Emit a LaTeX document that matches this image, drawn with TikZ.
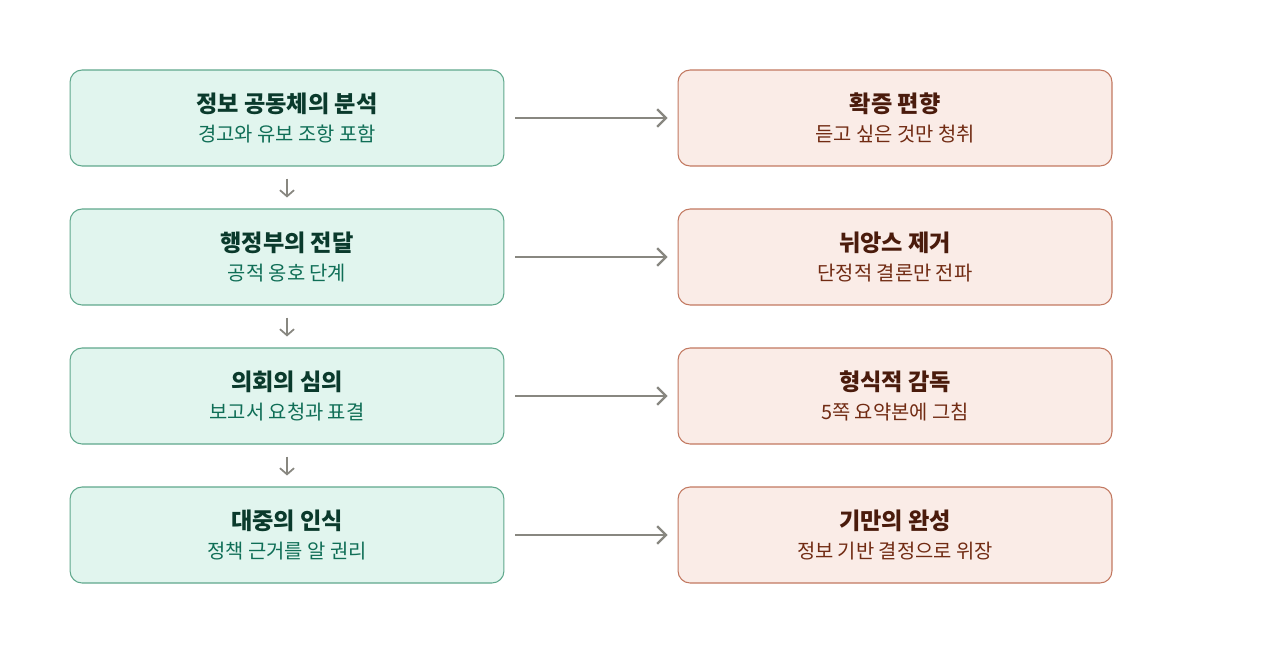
\documentclass[tikz,border=0pt]{standalone}
\usepackage{fontspec}
\setmainfont{Noto Sans CJK KR}
\usetikzlibrary{arrows.meta, positioning}
\definecolor{lfill}{HTML}{E1F5EE}
\definecolor{ldraw}{HTML}{5FA88C}
\definecolor{ltitle}{HTML}{0A3A2C}
\definecolor{lsub}{HTML}{0F6E56}
\definecolor{rfill}{HTML}{FAECE7}
\definecolor{rdraw}{HTML}{C27860}
\definecolor{rtitle}{HTML}{4A1B0C}
\definecolor{rsub}{HTML}{712B13}
\definecolor{flowgray}{HTML}{888780}
\tikzset{
  box/.style={rounded corners=0.24cm, line width=0.6pt, minimum width=8.68cm, minimum height=1.92cm, align=center, inner sep=0pt},
  leftbox/.style={box, draw=ldraw, fill=lfill},
  rightbox/.style={box, draw=rdraw, fill=rfill},
  flow/.style={draw=flowgray, line width=1.3pt, -{Straight Barb[length=5pt,width=10pt]}, shorten <=0.22cm, shorten >=0.2cm},
  down/.style={draw=flowgray, line width=1pt, -{Straight Barb[length=3.5pt,width=8pt]}, shorten <=0.24cm, shorten >=0.22cm}
}
\newcommand{\boxtext}[4]{{\fontsize{13.2pt}{18pt}\selectfont\bfseries\color{#1}#2}\\[4.5pt]{\fontsize{11.3pt}{18pt}\selectfont\color{#3}#4}}
\begin{document}
\begin{tikzpicture}[x=0.02cm,y=-0.02cm]
    \useasboundingbox (0,0) rectangle (1280,653);
    % left column
    \node[leftbox] (info) at (287,118) {\boxtext{ltitle}{정보 공동체의 분석}{lsub}{경고와 유보 조항 포함}};
    \node[leftbox] (gov) at (287,257) {\boxtext{ltitle}{행정부의 전달}{lsub}{공적 옹호 단계}};
    \node[leftbox] (parl) at (287,396) {\boxtext{ltitle}{의회의 심의}{lsub}{보고서 요청과 표결}};
    \node[leftbox] (public) at (287,535) {\boxtext{ltitle}{대중의 인식}{lsub}{정책 근거를 알 권리}};
    % right column
    \node[rightbox] (bias) at (895,118) {\boxtext{rtitle}{확증 편향}{rsub}{듣고 싶은 것만 청취}};
    \node[rightbox] (nuance) at (895,257) {\boxtext{rtitle}{뉘앙스 제거}{rsub}{단정적 결론만 전파}};
    \node[rightbox] (formal) at (895,396) {\boxtext{rtitle}{형식적 감독}{rsub}{5쪽 요약본에 그침}};
    \node[rightbox] (deceit) at (895,535) {\boxtext{rtitle}{기만의 완성}{rsub}{정보 기반 결정으로 위장}};
    % connectors
    \draw[down] (info) -- (gov);
    \draw[down] (gov) -- (parl);
    \draw[down] (parl) -- (public);
    \draw[flow] (info) -- (bias);
    \draw[flow] (gov) -- (nuance);
    \draw[flow] (parl) -- (formal);
    \draw[flow] (public) -- (deceit);
\end{tikzpicture}
\end{document}
